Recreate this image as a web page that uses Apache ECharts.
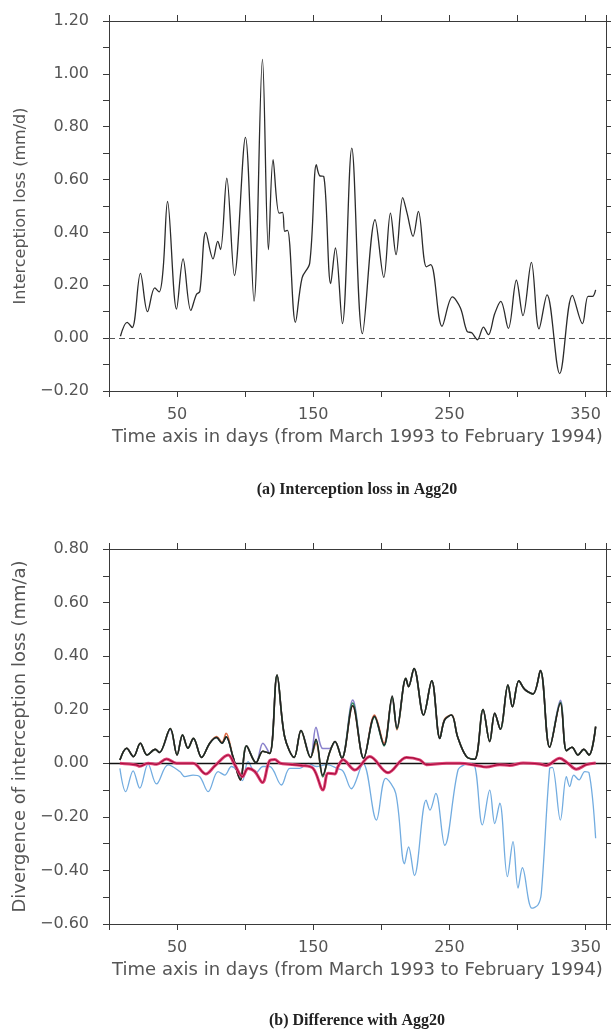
<!DOCTYPE html>
<html>
<head>
<meta charset="utf-8">
<script src="https://cdn.jsdelivr.net/npm/echarts@6/dist/echarts.min.js"></script>
<style>
  html, body { margin: 0; padding: 0; background: #ffffff; }
  #chart { width: 611px; height: 1031px; }
</style>
</head>
<body>
<div id="chart"></div>
<script>
// (a) Interception loss in Agg20, mm/d
const topDays = [8.4, 13.3, 17.0, 23.1, 28.3, 33.6, 36.8, 39.7, 43.0, 49.6, 54.4, 60.1, 64.2, 66.7, 71.1, 76.4, 79.9, 81.9, 86.5, 92.1, 100.2, 106.5, 112.7, 117.1, 120.5, 124.9, 127.4, 129.1, 131.1, 136.9, 141.8, 147.4, 152.3, 154.8, 157.7, 162.8, 166.3, 171.4, 178.3, 186.1, 195.4, 201.8, 206.7, 210.8, 215.7, 218.9, 223.3, 227.2, 233.1, 236.3, 244.6, 252.2, 258.1, 262.9, 266.4, 270.6, 275.0, 278.6, 283.3, 287.7, 293.3, 299.2, 304.0, 310.2, 315.8, 321.7, 331.0, 340.3, 347.7, 351.8, 355.0, 357.4];
const topLoss = [0.007, 0.06, 0.04, 0.245, 0.10, 0.19, 0.175, 0.259, 0.517, 0.11, 0.30, 0.105, 0.165, 0.177, 0.40, 0.30, 0.366, 0.335, 0.605, 0.237, 0.76, 0.14, 1.055, 0.335, 0.675, 0.473, 0.476, 0.404, 0.408, 0.06, 0.228, 0.284, 0.656, 0.614, 0.612, 0.206, 0.341, 0.055, 0.719, 0.017, 0.448, 0.23, 0.473, 0.316, 0.532, 0.473, 0.385, 0.48, 0.27, 0.278, 0.045, 0.156, 0.114, 0.026, 0.02, -0.006, 0.042, 0.013, 0.093, 0.139, 0.037, 0.219, 0.085, 0.287, 0.035, 0.164, -0.134, 0.162, 0.055, 0.158, 0.158, 0.183];

// (b) Difference with Agg20 — the four closely matching runs share one day grid
const divDays = [8, 13, 18, 23, 28, 34, 37, 45, 50, 54, 58, 62, 68, 74, 79, 83, 86, 91, 96.5, 101, 108, 113, 118, 123.4, 129, 136, 141, 148, 152, 157, 162, 166, 171, 179, 187, 195, 202, 208, 211.5, 218, 220, 224, 231, 237, 243, 246.5, 251.5, 256, 262.5, 268.5, 274.7, 279.6, 283.3, 287.4, 293, 296.3, 301, 305.3, 311.4, 316.8, 323.6, 331.5, 336, 340, 344.4, 348.6, 352.5, 357.4];
const divBlack = [0.012, 0.056, 0.025, 0.075, 0.031, 0.052, 0.04, 0.13, 0.031, 0.106, 0.056, 0.093, 0.022, 0.075, 0.096, 0.075, 0.099, 0.025, -0.062, 0.065, 0.002, 0.045, 0.037, 0.329, 0.099, 0.022, 0.122, 0.022, 0.09, -0.045, 0.04, 0.081, 0.019, 0.215, 0.019, 0.176, 0.068, 0.251, 0.131, 0.317, 0.286, 0.354, 0.18, 0.308, 0.093, 0.162, 0.18, 0.099, 0.025, 0.015, 0.201, 0.081, 0.187, 0.127, 0.292, 0.211, 0.308, 0.276, 0.259, 0.346, 0.06, 0.224, 0.047, 0.06, 0.031, 0.052, 0.031, 0.137];
const divGreen = [0.012, 0.056, 0.025, 0.075, 0.031, 0.052, 0.04, 0.13, 0.031, 0.106, 0.056, 0.093, 0.022, 0.075, 0.096, 0.075, 0.099, 0.025, -0.06, 0.065, 0.002, 0.045, 0.037, 0.329, 0.099, 0.022, 0.122, 0.022, 0.085, -0.05, 0.04, 0.081, 0.019, 0.225, 0.019, 0.172, 0.065, 0.245, 0.128, 0.317, 0.286, 0.354, 0.18, 0.308, 0.093, 0.162, 0.18, 0.099, 0.025, 0.015, 0.201, 0.081, 0.187, 0.127, 0.292, 0.211, 0.308, 0.276, 0.259, 0.346, 0.06, 0.228, 0.047, 0.06, 0.031, 0.052, 0.031, 0.137];
const divOrange = [0.012, 0.056, 0.025, 0.075, 0.031, 0.052, 0.04, 0.13, 0.031, 0.106, 0.056, 0.093, 0.022, 0.075, 0.1, 0.078, 0.112, 0.025, -0.062, 0.065, 0.002, 0.045, 0.037, 0.329, 0.099, 0.022, 0.122, 0.022, 0.075, -0.05, 0.04, 0.081, 0.019, 0.215, 0.019, 0.18, 0.075, 0.245, 0.125, 0.317, 0.286, 0.354, 0.18, 0.308, 0.093, 0.165, 0.18, 0.099, 0.025, 0.015, 0.201, 0.081, 0.187, 0.127, 0.292, 0.211, 0.308, 0.276, 0.259, 0.346, 0.06, 0.224, 0.047, 0.06, 0.031, 0.052, 0.031, 0.137];
const divPurple = [0.012, 0.056, 0.025, 0.075, 0.031, 0.052, 0.04, 0.125, 0.031, 0.105, 0.056, 0.093, 0.022, 0.075, 0.096, 0.075, 0.099, 0.025, -0.062, 0.065, 0.002, 0.075, 0.037, 0.329, 0.099, 0.022, 0.122, 0.022, 0.134, 0.055, 0.055, 0.081, 0.019, 0.236, 0.019, 0.176, 0.068, 0.24, 0.131, 0.317, 0.286, 0.354, 0.18, 0.308, 0.093, 0.162, 0.18, 0.099, 0.025, 0.015, 0.201, 0.081, 0.187, 0.127, 0.292, 0.211, 0.308, 0.276, 0.259, 0.346, 0.06, 0.235, 0.047, 0.06, 0.031, 0.052, 0.031, 0.137];

const blueDays = [8, 12.3, 17.7, 22.6, 28.7, 34.9, 43.4, 52, 55.7, 61.7, 66.7, 72.8, 80.1, 85, 89.9, 93.6, 98, 102.1, 107.8, 113.1, 118, 126.6, 132.8, 140.1, 146.2, 152.3, 160, 168, 172, 178, 186.6, 196.4, 203.2, 210.6, 217, 220, 224.3, 232.9, 235.7, 240, 246.6, 256.3, 261.2, 267.3, 274.2, 279.6, 283.3, 287, 292.6, 296.7, 300.4, 303.6, 310.6, 315, 317.5, 323.6, 325.6, 331.5, 335.9, 338.3, 341.3, 345.2, 349.4, 352.5, 357.4];
const blueDiv = [-0.019, -0.106, -0.028, -0.093, -0.003, -0.077, -0.006, -0.031, -0.05, -0.044, -0.05, -0.106, -0.031, -0.044, -0.012, -0.025, -0.065, 0.006, -0.037, -0.012, -0.012, -0.081, -0.019, -0.019, 0.0, -0.012, -0.005, -0.02, -0.03, -0.095, 0.0, -0.212, -0.056, -0.112, -0.375, -0.3125, -0.419, -0.1375, -0.175, -0.1125, -0.306, -0.025, -0.005, 0.0, -0.23, -0.1, -0.225, -0.149, -0.423, -0.293, -0.466, -0.39, -0.541, -0.529, -0.485, -0.019, -0.015, -0.212, -0.05, -0.087, -0.044, -0.062, -0.031, -0.035, -0.28];

const pinkDays = [8, 20, 22.6, 28.7, 35, 42.2, 49.6, 61.7, 71.1, 77.7, 87.5, 92.4, 98, 102.1, 107, 112.7, 118, 121.7, 125.9, 141.3, 149.9, 157.2, 160.9, 165.8, 168.2, 171.9, 180.5, 191.5, 204.9, 218.4, 228.2, 233.1, 247.8, 257.6, 269.8, 277.2, 287, 294.3, 304.1, 316.3, 321.2, 331, 337, 343.2, 350.6, 357.4];
const pinkDiv = [0.0, -0.006, -0.011, 0.0, -0.004, 0.016, 0.0, 0.0, -0.04, -0.01, 0.031, -0.006, -0.05, -0.019, -0.03, -0.072, 0.01, 0.014, 0.0, -0.008, -0.019, -0.1, -0.037, -0.04, -0.012, 0.013, -0.025, 0.025, -0.035, 0.022, 0.013, -0.005, 0.0, 0.0, -0.008, -0.014, -0.005, -0.008, 0.001, -0.003, -0.008, 0.019, 0.0, -0.022, -0.005, 0.001];

const xTickLabels = [50, 150, 250, 350];

const pairs = (xs, ys) => xs.map((x, i) => [x, ys[i]]);

const AXIS_COLOR = '#3a3a3a';
const TEXT_COLOR = '#555555';
const SANS = '"DejaVu Sans", sans-serif';

function fmtY(v) {
  if (Math.round(v * 10) % 2 !== 0) return '';
  if (Math.abs(v) < 1e-9) return '0.00';
  return (v < 0 ? '\u2212' : '') + Math.abs(v).toFixed(2);
}

function xAxisBottom(grid) {
  return {
    gridIndex: grid, type: 'value', position: 'bottom', min: 0, max: 365, interval: 50,
    axisLine: { onZero: false, lineStyle: { color: AXIS_COLOR, width: 1 } },
    axisTick: { inside: false, length: 6, lineStyle: { color: AXIS_COLOR } },
    axisLabel: {
      margin: 16, fontSize: 16, color: TEXT_COLOR, fontFamily: SANS,
      formatter: v => (xTickLabels.indexOf(v) >= 0 ? String(v) : '')
    },
    splitLine: { show: false },
    name: 'Time axis in days (from March 1993 to February 1994)',
    nameLocation: 'middle', nameGap: 37,
    nameTextStyle: { fontSize: 18, color: TEXT_COLOR, fontFamily: SANS }
  };
}
function xAxisTop(grid) {
  return {
    gridIndex: grid, type: 'value', position: 'top', min: 0, max: 365, interval: 50,
    axisLine: { onZero: false, lineStyle: { color: AXIS_COLOR, width: 1 } },
    axisTick: { inside: false, length: 6, lineStyle: { color: AXIS_COLOR } },
    axisLabel: { show: false }, splitLine: { show: false }
  };
}
function yAxisLeft(grid, min, max, name, gap, size) {
  return {
    gridIndex: grid, type: 'value', position: 'left', min: min, max: max, interval: 0.1,
    axisLine: { show: true, onZero: false, lineStyle: { color: AXIS_COLOR, width: 1 } },
    axisTick: { show: true, inside: false, length: 6, lineStyle: { color: AXIS_COLOR } },
    axisLabel: { margin: 20, fontSize: 16, color: TEXT_COLOR, fontFamily: SANS, formatter: fmtY },
    splitLine: { show: false },
    name: name, nameLocation: 'middle', nameGap: gap, nameRotate: 90,
    nameTextStyle: { fontSize: size, color: TEXT_COLOR, fontFamily: SANS }
  };
}
function yAxisRight(grid, min, max) {
  return {
    gridIndex: grid, type: 'value', position: 'right', min: min, max: max, interval: 0.1,
    axisLine: { show: true, onZero: false, lineStyle: { color: AXIS_COLOR, width: 1 } },
    axisTick: { show: true, inside: false, length: 6, lineStyle: { color: AXIS_COLOR } },
    axisLabel: { show: false }, splitLine: { show: false }
  };
}

function line(name, xi, yi, data, color, width, z, extra) {
  return Object.assign({
    name: name, type: 'line', xAxisIndex: xi, yAxisIndex: yi, data: data,
    smooth: 0.35, showSymbol: false, symbol: 'none', silent: true, animation: false, z: z,
    lineStyle: { color: color, width: width }
  }, extra || {});
}

const chart = echarts.init(document.getElementById('chart'), null, { renderer: 'canvas' });

chart.setOption({
  backgroundColor: '#ffffff',
  animation: false,
  grid: [
    { left: 109, top: 21, width: 497, height: 370 },
    { left: 109, top: 549, width: 497, height: 375 }
  ],
  xAxis: [xAxisBottom(0), xAxisTop(0), xAxisBottom(1), xAxisTop(1)],
  yAxis: [
    yAxisLeft(0, -0.2, 1.2, 'Interception loss (mm/d)', 76, 16),
    yAxisRight(0, -0.2, 1.2),
    yAxisLeft(1, -0.6, 0.8, 'Divergence of interception loss (mm/a)', 75, 18),
    yAxisRight(1, -0.6, 0.8)
  ],
  series: [
    line('Agg20', 0, 0, pairs(topDays, topLoss), '#2b2b2b', 1.3, 5, {
      markLine: {
        silent: true, symbol: 'none', label: { show: false },
        lineStyle: { color: '#555555', type: [6, 4], width: 1 },
        data: [{ yAxis: 0 }]
      }
    }),
    line('blue', 2, 2, pairs(blueDays, blueDiv), '#72ace0', 1.3, 3),
    line('purple', 2, 2, pairs(divDays, divPurple), '#8a82cc', 1.6, 4),
    line('orange', 2, 2, pairs(divDays, divOrange), '#e06a44', 1.6, 4),
    line('green', 2, 2, pairs(divDays, divGreen), '#2f8560', 1.6, 5),
    line('black', 2, 2, pairs(divDays, divBlack), '#222222', 1.5, 6, {
      markLine: {
        silent: true, symbol: 'none', label: { show: false },
        lineStyle: { color: '#111111', type: 'solid', width: 1.3 },
        data: [{ yAxis: 0 }]
      }
    }),
    line('pink', 2, 2, pairs(pinkDays, pinkDiv), '#e24479', 3.0, 7),
    line('crimson', 2, 2, pairs(pinkDays, pinkDiv), '#a3103c', 1.1, 8)
  ],
  graphic: [
    {
      type: 'text', x: 357, y: 490,
      style: {
        text: '(a) Interception loss in Agg20', textAlign: 'center', textVerticalAlign: 'middle',
        font: 'bold 16px "Liberation Serif", serif', fill: '#222222'
      }
    },
    {
      type: 'text', x: 357, y: 1021,
      style: {
        text: '(b) Difference with Agg20', textAlign: 'center', textVerticalAlign: 'middle',
        font: 'bold 16px "Liberation Serif", serif', fill: '#222222'
      }
    }
  ]
});
</script>
</body>
</html>
